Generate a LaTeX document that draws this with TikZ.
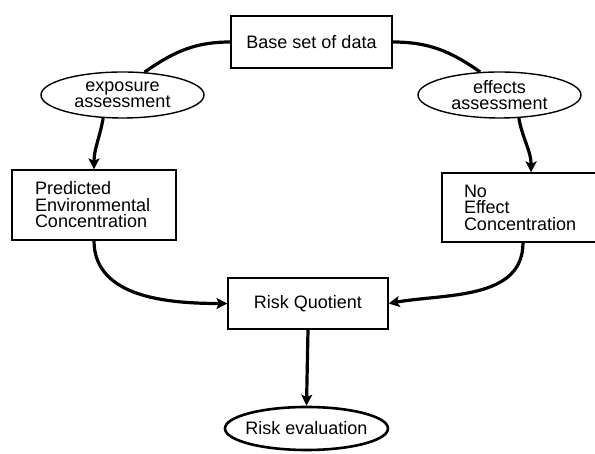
\documentclass[tikz,border=0pt]{standalone}
\usepackage{fontspec}
\setmainfont{Liberation Sans}
\usetikzlibrary{shapes.geometric,arrows.meta}
\begin{document}
\begin{tikzpicture}[x=1pt,y=1pt,
  txt/.style={font=\fontsize{18}{16.5}\selectfont},
  box/.style={txt, draw=black, line width=1.2pt, rectangle, inner sep=0pt, align=center},
  oval/.style={txt, draw=black, line width=1.4pt, ellipse, inner sep=0pt, align=center},
  conn/.style={line width=3.2pt},
  arr/.style={conn, -{Stealth[length=11pt,width=11pt,inset=2.5pt]}}
]
\useasboundingbox (0,0) rectangle (595,454);
\node[box, minimum width=161, minimum height=52] (base) at (311.5,412) {Base set of data};
\node[oval, minimum width=163, minimum height=46] (expo) at (122.5,359) {exposure\\assessment};
\node[oval, minimum width=163, minimum height=46] (eff) at (499.5,359) {effects\\assessment};
\node[box, minimum height=70, text width=118, inner xsep=23, align=left] (pec) at (94,249) {Predicted\\Environmental\\Concentration};
\node[box, minimum height=69, text width=118, inner xsep=22, align=left] (noec) at (523,246.5) {No\\Effect\\Concentration};
\node[box, minimum width=160, minimum height=51] (rq) at (308,150.5) {Risk Quotient};
\node[oval, line width=2.6pt, minimum width=163, minimum height=43] (eval) at (306.5,25.5) {\makebox[0pt]{Risk evaluation}};
\draw[conn] (base.west) to[out=180,in=35] (expo.46);
\draw[arr] (expo.230) to[out=-100,in=90] (pec.north);
\draw[conn] (base.east) to[out=0,in=145] (eff.130);
\draw[arr] (eff.-50) to[out=-80,in=90] (noec.77);
\draw[arr] (pec.south) to[out=-90,in=180] (rq.west);
\draw[arr] (noec.south) to[out=-90,in=10] (rq.east);
\draw[arr] (rq.south) -- (eval.north);
\end{tikzpicture}
\end{document}
